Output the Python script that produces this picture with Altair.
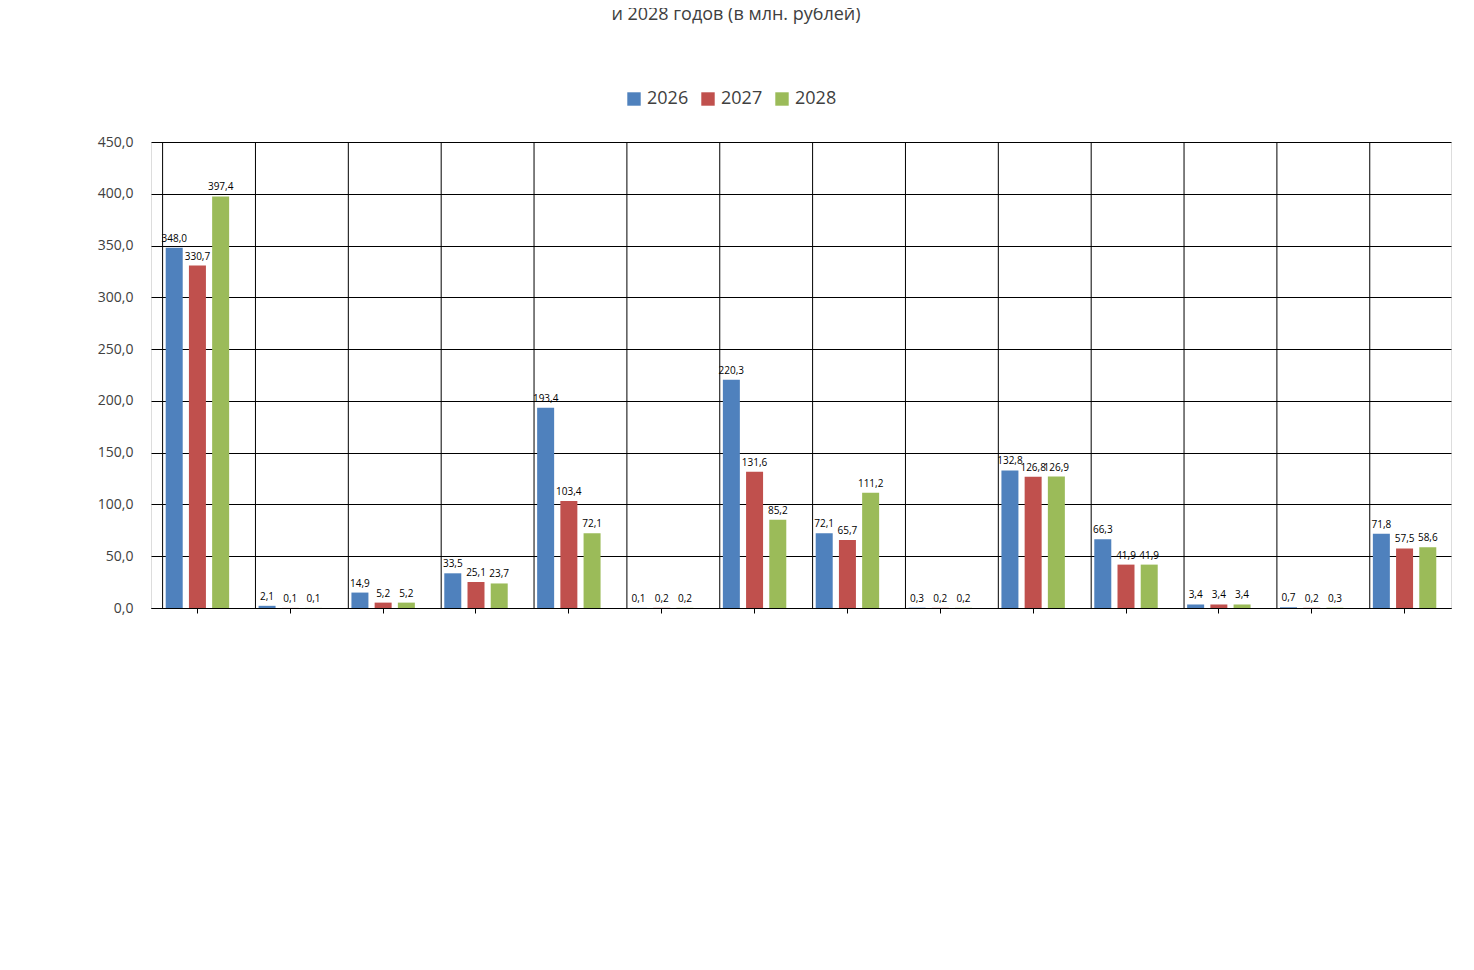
import altair as alt
import pandas as pd

categories = [
    "ОБЩЕГОСУДАРСТВЕННЫЕ ВОПРОСЫ",
    "НАЦИОНАЛЬНАЯ ОБОРОНА",
    "НАЦ.БЕЗОПАСНОСТЬ И ПРАВООХРАНИТЕЛЬНАЯ ДЕЯТЕЛЬНОСТЬ",
    "НАЦИОНАЛЬНАЯ ЭКОНОМИКА",
    "ЖИЛИЩНО-КОММУНАЛЬНОЕ ХОЗЯЙСТВО",
    "ОХРАНА ОКРУЖАЮЩЕЙ СРЕДЫ",
    "ОБРАЗОВАНИЕ",
    "КУЛЬТУРА, КИНЕМАТОГРАФИЯ",
    "ЗДРАВООХРАНЕНИЕ",
    "СОЦИАЛЬНАЯ ПОЛИТИКА",
    "ФИЗИЧЕСКАЯ КУЛЬТУРА И СПОРТ",
    "СРЕДСТВА МАССОВОЙ ИНФОРМАЦИИ",
    "ОБСЛУЖИВАНИЕ МУНИЦИПАЛЬНОГО ДОЛГА",
    "МЕЖБЮДЖЕТНЫЕ ТРАНСФЕРТЫ",
]
y2026 = [348.0, 2.1, 14.9, 33.5, 193.4, 0.1, 220.3, 72.1, 0.3, 132.8, 66.3, 3.4, 0.7, 71.8]
y2027 = [330.7, 0.1, 5.2, 25.1, 103.4, 0.2, 131.6, 65.7, 0.2, 126.8, 41.9, 3.4, 0.2, 57.5]
y2028 = [397.4, 0.1, 5.2, 23.7, 72.1, 0.2, 85.2, 111.2, 0.2, 126.9, 41.9, 3.4, 0.3, 58.6]
years = ["2026", "2027", "2028"]
colors = ["#4F81BD", "#C0504D", "#9BBB59"]

rows = []
for year, vals in zip(years, [y2026, y2027, y2028]):
    for cat, v in zip(categories, vals):
        rows.append({"cat": cat, "year": year, "value": v,
                     "label": f"{v:.1f}".replace(".", ",")})
df = pd.DataFrame(rows)

FONT = "Open Sans"
xenc = alt.X("cat:N", sort=categories, title=None,
             scale=alt.Scale(paddingInner=0.25, paddingOuter=0.125),
             axis=alt.Axis(labelAngle=-45, labelAlign="right", labelBaseline="top",
                           labelFontSize=12.5, labelLimit=600, labelColor="#000000",
                           labelFont=FONT, domainColor="#000000", tickColor="#000000",
                           labelPadding=4))

base = alt.Chart(df).encode(
    x=xenc,
    xOffset=alt.XOffset("year:N", sort=years),
    y=alt.Y("value:Q", title=None, scale=alt.Scale(domain=[0, 450]),
            axis=alt.Axis(values=list(range(0, 451, 50)), gridColor="#000000",
                          labelExpr="replace(format(datum.value, '.1f'), '.', ',')",
                          labelFontSize=14, labelFont=FONT, labelColor="#404040",
                          domain=False, ticks=False, labelPadding=18)),
)

bars = base.mark_bar(width=17).encode(
    color=alt.Color("year:N", sort=years, title=None,
                    scale=alt.Scale(domain=years, range=colors),
                    legend=alt.Legend(orient="none", legendX=474, legendY=-52,
                                      symbolType="square", symbolSize=180,
                                      labelFontSize=18, labelFont=FONT, labelColor="#404040",
                                      direction="horizontal"))
)
text = base.mark_text(dy=-9, fontSize=10, font=FONT, color="#000000").encode(text="label:N")

sep = alt.Chart(pd.DataFrame({"cat": categories})).mark_rule(color="#000000", strokeWidth=1).encode(
    x=alt.X("cat:N", sort=categories, bandPosition=0)
)

chart = alt.layer(sep, bars, text).properties(
    width=1300, height=466,
    autosize=alt.AutoSizeParams(type="none"),
    padding={"left": 143, "top": 134, "right": 10, "bottom": 10},
    title=alt.TitleParams(
        ["Расходы бюджета муниципального района Кинель-Черкасский самарской области на 2026 год на плановый период 2027",
         "и 2028 годов (в млн. рублей)"],
        fontSize=18, font=FONT, fontWeight="normal", color="#404040", lineHeight=28,
        offset=66, dx=-65),
).configure_view(stroke="#000000").configure(font=FONT)

chart.save("out.html", embed_options={"renderer": "svg", "actions": False})
